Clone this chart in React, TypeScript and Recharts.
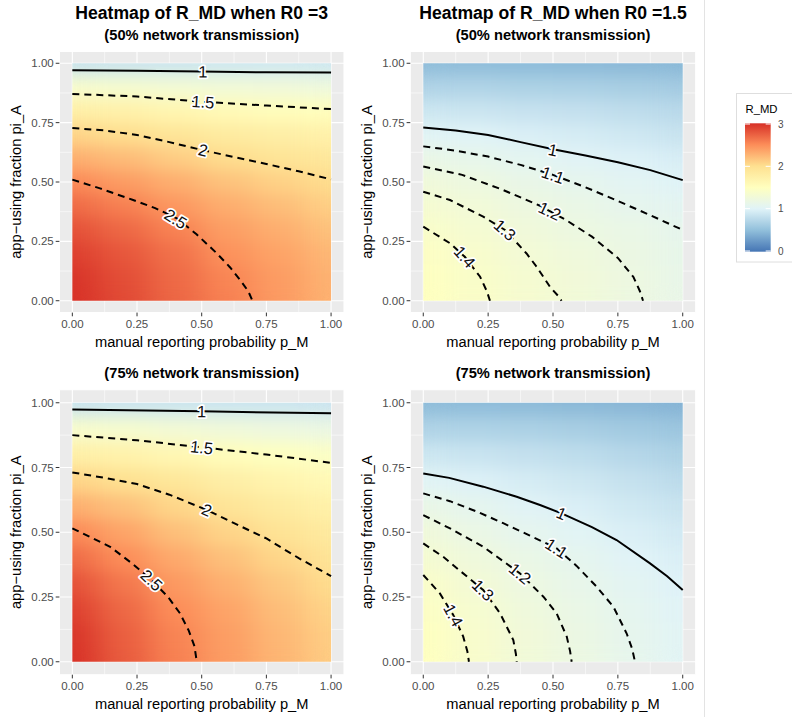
import React from "react";
import { ScatterChart, Scatter, XAxis, YAxis, CartesianGrid } from "recharts";

const FONT = '"Liberation Sans", Arial, Helvetica, sans-serif';

// heatmap grid: p_M across, pi_A up
const gridX = [0, 0.2, 0.4, 0.6, 0.8, 1];
const gridY = [0, 0.1, 0.2, 0.3, 0.4, 0.5, 0.6, 0.7, 0.8, 0.9, 1];
const axisTicks = [0, 0.25, 0.5, 0.75, 1];
const minorTicks = [0.125, 0.375, 0.625, 0.875];
const legendBreaks = [0, 1, 2, 3];

// RdYlBu (distiller, 7 colours) over 0..3
const palette = ["#4575b4", "#91bfdb", "#e0f3f8", "#ffffbf", "#fee090", "#fc8d59", "#d73027"];

// R_MD values, one row per pi_A (bottom to top)
const r3n50Heat = [
  [3.0, 2.86, 2.71, 2.57, 2.42, 2.28],
  [2.98, 2.84, 2.69, 2.54, 2.41, 2.27],
  [2.92, 2.79, 2.65, 2.47, 2.37, 2.24],
  [2.83, 2.7, 2.56, 2.4, 2.3, 2.18],
  [2.69, 2.57, 2.44, 2.31, 2.21, 2.1],
  [2.52, 2.41, 2.3, 2.18, 2.09, 2.02],
  [2.3, 2.22, 2.12, 2.02, 1.94, 1.88],
  [2.07, 2.01, 1.92, 1.83, 1.77, 1.72],
  [1.76, 1.72, 1.65, 1.58, 1.54, 1.52],
  [1.38, 1.36, 1.32, 1.29, 1.27, 1.24],
  [0.85, 0.86, 0.87, 0.88, 0.89, 0.88],
];
const r15n50Heat = [
  [1.5, 1.425, 1.35, 1.28, 1.21, 1.14],
  [1.49, 1.41, 1.34, 1.27, 1.205, 1.135],
  [1.46, 1.385, 1.3, 1.245, 1.185, 1.12],
  [1.41, 1.335, 1.26, 1.2, 1.155, 1.1],
  [1.345, 1.285, 1.21, 1.155, 1.1, 1.06],
  [1.26, 1.21, 1.145, 1.095, 1.045, 1.005],
  [1.16, 1.115, 1.065, 1.02, 0.98, 0.94],
  [1.03, 1.005, 0.96, 0.93, 0.89, 0.85],
  [0.88, 0.87, 0.84, 0.82, 0.79, 0.75],
  [0.7, 0.7, 0.68, 0.67, 0.645, 0.62],
  [0.48, 0.48, 0.47, 0.46, 0.455, 0.45],
];
const r3n75Heat = [
  [3.0, 2.77, 2.57, 2.41, 2.26, 2.12],
  [2.98, 2.75, 2.55, 2.4, 2.25, 2.11],
  [2.92, 2.7, 2.5, 2.36, 2.21, 2.07],
  [2.83, 2.62, 2.43, 2.29, 2.15, 2.02],
  [2.69, 2.5, 2.33, 2.19, 2.06, 1.93],
  [2.52, 2.36, 2.2, 2.07, 1.95, 1.84],
  [2.3, 2.19, 2.06, 1.93, 1.83, 1.73],
  [2.07, 1.99, 1.89, 1.77, 1.68, 1.6],
  [1.76, 1.71, 1.63, 1.54, 1.49, 1.44],
  [1.38, 1.36, 1.31, 1.26, 1.22, 1.18],
  [0.85, 0.86, 0.86, 0.86, 0.86, 0.86],
];
const r15n75Heat = [
  [1.5, 1.39, 1.28, 1.19, 1.106, 1.03],
  [1.49, 1.38, 1.27, 1.18, 1.1, 1.025],
  [1.46, 1.355, 1.245, 1.16, 1.08, 1.01],
  [1.415, 1.303, 1.205, 1.125, 1.05, 0.995],
  [1.345, 1.245, 1.155, 1.085, 1.01, 0.96],
  [1.26, 1.17, 1.09, 1.03, 0.96, 0.91],
  [1.16, 1.085, 1.02, 0.965, 0.9, 0.85],
  [1.03, 0.98, 0.93, 0.885, 0.83, 0.77],
  [0.88, 0.855, 0.82, 0.785, 0.735, 0.68],
  [0.7, 0.69, 0.67, 0.645, 0.61, 0.57],
  [0.48, 0.475, 0.465, 0.455, 0.44, 0.42],
];

// contour levels
const levelsR3 = [1, 1.5, 2, 2.5];
const levelsR15 = [1, 1.1, 1.2, 1.3, 1.4];

// contour paths [p_M, pi_A]
const r3n50C1 = [[0, 0.971], [0.25, 0.968], [0.5, 0.965], [0.75, 0.962], [1, 0.961]];
const r3n50C15 = [[0, 0.871], [0.25, 0.86], [0.5, 0.838], [0.75, 0.822], [1, 0.807]];
const r3n50C2 = [[0, 0.727], [0.125, 0.717], [0.25, 0.698], [0.375, 0.668], [0.5, 0.635], [0.625, 0.605], [0.75, 0.576], [0.875, 0.545], [1, 0.511]];
const r3n50C25 = [[0, 0.51], [0.107, 0.473], [0.235, 0.424], [0.32, 0.39], [0.404, 0.347], [0.48, 0.28], [0.559, 0.199], [0.61, 0.14], [0.649, 0.087], [0.68, 0.04], [0.696, 0]];
const r3n50LabelPos = [[0.505, 0.965], [0.505, 0.838], [0.505, 0.635], [0.4, 0.345]];

const r15n50C1 = [[0, 0.73], [0.125, 0.717], [0.25, 0.698], [0.375, 0.668], [0.5, 0.638], [0.625, 0.612], [0.75, 0.583], [0.875, 0.55], [1, 0.508]];
const r15n50C11 = [[0, 0.65], [0.125, 0.632], [0.25, 0.607], [0.375, 0.572], [0.5, 0.53], [0.625, 0.478], [0.75, 0.42], [0.875, 0.36], [1, 0.298]];
const r15n50C12 = [[0, 0.565], [0.15, 0.53], [0.3, 0.47], [0.45, 0.4], [0.55, 0.34], [0.65, 0.27], [0.75, 0.18], [0.81, 0.1], [0.835, 0.04], [0.847, 0]];
const r15n50C13 = [[0, 0.459], [0.103, 0.424], [0.231, 0.354], [0.315, 0.298], [0.398, 0.199], [0.437, 0.143], [0.488, 0.059], [0.52, 0.02], [0.533, 0]];
const r15n50C14 = [[0, 0.312], [0.103, 0.242], [0.16, 0.185], [0.219, 0.101], [0.245, 0.04], [0.257, 0]];
const r15n50LabelPos = [[0.5, 0.636], [0.5, 0.53], [0.488, 0.378], [0.315, 0.298], [0.16, 0.185]];

const r3n75C1 = [[0, 0.974], [0.5, 0.967], [1, 0.959]];
const r3n75C15 = [[0, 0.875], [0.25, 0.855], [0.5, 0.828], [0.75, 0.8], [1, 0.768]];
const r3n75C2 = [[0, 0.731], [0.125, 0.71], [0.25, 0.686], [0.375, 0.645], [0.52, 0.586], [0.625, 0.535], [0.75, 0.476], [0.875, 0.4], [1, 0.331]];
const r3n75C25 = [[0, 0.515], [0.146, 0.444], [0.23, 0.38], [0.307, 0.315], [0.37, 0.25], [0.416, 0.187], [0.45, 0.12], [0.472, 0.06], [0.481, 0]];
const r3n75LabelPos = [[0.5, 0.967], [0.5, 0.828], [0.52, 0.586], [0.307, 0.315]];

const r15n75C1 = [[0, 0.727], [0.1, 0.71], [0.231, 0.676], [0.36, 0.637], [0.45, 0.605], [0.533, 0.573], [0.65, 0.52], [0.745, 0.47], [0.874, 0.38], [0.94, 0.33], [1, 0.277]];
const r15n75C11 = [[0, 0.65], [0.103, 0.62], [0.206, 0.58], [0.308, 0.535], [0.411, 0.487], [0.514, 0.438], [0.591, 0.37], [0.668, 0.29], [0.733, 0.212], [0.784, 0.109], [0.805, 0.05], [0.816, 0]];
const r15n75C12 = [[0, 0.566], [0.103, 0.515], [0.231, 0.444], [0.373, 0.341], [0.463, 0.251], [0.514, 0.187], [0.553, 0.097], [0.566, 0.04], [0.572, 0]];
const r15n75C13 = [[0, 0.457], [0.077, 0.405], [0.231, 0.277], [0.296, 0.187], [0.347, 0.084], [0.357, 0.03], [0.36, 0]];
const r15n75C14 = [[0, 0.335], [0.064, 0.264], [0.116, 0.18], [0.154, 0.097], [0.17, 0.04], [0.176, 0]];
const r15n75LabelPos = [[0.533, 0.573], [0.514, 0.438], [0.373, 0.341], [0.231, 0.277], [0.116, 0.18]];

const titleR3 = "Heatmap of R_MD when R0 =3";
const titleR15 = "Heatmap of R_MD when R0 =1.5";
const sub50 = "(50% network transmission)";
const sub75 = "(75% network transmission)";
const xTitle = "manual reporting probability p_M";
const yTitle = "app\u2212using fraction pi_A";

function hexRgb(h: string) {
  const n = parseInt(h.slice(1), 16);
  return [(n >> 16) & 255, (n >> 8) & 255, n & 255];
}

function rampColor(v: number) {
  const t = Math.max(0, Math.min(1, v / 3)) * (palette.length - 1);
  const i = Math.min(Math.floor(t), palette.length - 2);
  const f = t - i;
  const a = hexRgb(palette[i]);
  const b = hexRgb(palette[i + 1]);
  const c = a.map((av, k) => Math.round(av + (b[k] - av) * f));
  return `rgb(${c[0]},${c[1]},${c[2]})`;
}

// angle of the contour near the label, in screen degrees
function labelAngle(pts: number[][], pos: number[], kx: number, ky: number) {
  let best = 0;
  let bestD = Infinity;
  pts.forEach((p, i) => {
    const d = Math.hypot((p[0] - pos[0]) * kx, (p[1] - pos[1]) * ky);
    if (d < bestD) {
      bestD = d;
      best = i;
    }
  });
  const a = pts[Math.max(0, best - 1)];
  const b = pts[Math.min(pts.length - 1, best + 1)];
  return (Math.atan2(-(b[1] - a[1]) * ky, (b[0] - a[0]) * kx) * 180) / Math.PI;
}

type Frame = { left: number; top: number; width: number; height: number; x0: number; x1: number; y0: number; y1: number };

function HeatPanel({ frame, heat, lines, levels, labelPos }: { frame: Frame; heat: number[][]; lines: number[][][]; levels: number[]; labelPos: number[][] }) {
  const kx = (frame.x1 - frame.x0) / 1.1;
  const ky = (frame.y1 - frame.y0) / 1.1;
  const hw = (kx * (gridX[1] - gridX[0])) / 2 + 0.5;
  const hh = (ky * (gridY[1] - gridY[0])) / 2 + 0.5;

  const cells = heat.flatMap((row, j) => row.map((v, i) => ({ x: gridX[i], y: gridY[j], v })));
  const labels = levels.map((lv, i) => ({
    x: labelPos[i][0],
    y: labelPos[i][1],
    text: String(lv),
    angle: labelAngle(lines[i], labelPos[i], kx, ky),
  }));

  const tickStyle = { fill: "#4d4d4d", fontSize: 11.5, fontFamily: FONT };

  return (
    <div style={{ position: "absolute", left: frame.left, top: frame.top }}>
      <ScatterChart
        width={frame.width}
        height={frame.height}
        margin={{ top: frame.y0 - frame.top, right: frame.left + frame.width - frame.x1, bottom: 0, left: 0 }}
      >
        <CartesianGrid fill="#ebebeb" stroke="#ffffff" strokeWidth={0.55} verticalValues={minorTicks} horizontalValues={minorTicks} />
        <CartesianGrid stroke="#ffffff" strokeWidth={1.1} />
        <XAxis
          type="number"
          dataKey="x"
          domain={[-0.05, 1.05]}
          ticks={axisTicks}
          interval={0}
          allowDataOverflow
          height={frame.top + frame.height - frame.y1}
          tickFormatter={(v: number) => v.toFixed(2)}
          tick={tickStyle}
          tickLine={{ stroke: "#333333" }}
          tickSize={3.7}
          tickMargin={3.5}
          axisLine={false}
        />
        <YAxis
          type="number"
          dataKey="y"
          domain={[-0.05, 1.05]}
          ticks={axisTicks}
          interval={0}
          allowDataOverflow
          width={frame.x0 - frame.left}
          tickFormatter={(v: number) => v.toFixed(2)}
          tick={tickStyle}
          tickLine={{ stroke: "#333333" }}
          tickSize={3.7}
          tickMargin={2}
          axisLine={false}
        />
        <Scatter
          className="heat"
          data={cells}
          isAnimationActive={false}
          shape={(p: any) => {
            const d = p.payload ?? p;
            const left = d.x <= 0 ? p.cx : p.cx - hw;
            const right = d.x >= 1 ? p.cx : p.cx + hw;
            const top = d.y >= 1 ? p.cy : p.cy - hh;
            const bottom = d.y <= 0 ? p.cy : p.cy + hh;
            return <rect x={left} y={top} width={right - left} height={bottom - top} fill={rampColor(d.v)} />;
          }}
        />
        {lines.map((pts, i) => (
          <Scatter
            key={`c${i}`}
            data={pts.map(([x, y]) => ({ x, y }))}
            isAnimationActive={false}
            line={{ stroke: "#000000", strokeWidth: 2, strokeDasharray: levels[i] === 1 ? "0" : "7 5" }}
            lineType="joint"
            shape={() => <g />}
          />
        ))}
        <Scatter
          data={labels}
          isAnimationActive={false}
          shape={(p: any) => {
            const d = p.payload ?? p;
            return (
              <text
                x={p.cx}
                y={p.cy}
                transform={`rotate(${d.angle} ${p.cx} ${p.cy})`}
                textAnchor="middle"
                dominantBaseline="central"
                fontSize={16.5}
                fontFamily={FONT}
                fill="#111111"
                stroke="#ffffff"
                strokeWidth={3.5}
                strokeLinejoin="round"
                paintOrder="stroke"
              >
                {d.text}
              </text>
            );
          }}
        />
      </ScatterChart>
    </div>
  );
}

const frameTL: Frame = { left: 0, top: 0, width: 350, height: 335, x0: 59.4, x1: 344, y0: 51.4, y1: 312.6 };
const frameTR: Frame = { left: 352, top: 0, width: 350, height: 335, x0: 410.3, x1: 695.7, y0: 51.4, y1: 312.6 };
const frameBL: Frame = { left: 0, top: 360, width: 350, height: 335, x0: 59.4, x1: 344, y0: 389.8, y1: 674.7 };
const frameBR: Frame = { left: 352, top: 360, width: 350, height: 335, x0: 410.3, x1: 695.7, y0: 389.8, y1: 674.7 };

export default function App() {
  const frames = [frameTL, frameTR, frameBL, frameBR];
  const barTop = 123.3;
  const barBottom = 251.7;
  const v2y = (v: number) => 124 + ((3 - v) / 3) * 127;

  return (
    <div style={{ position: "absolute", left: 0, top: 0, width: 792, height: 717, background: "#ffffff", overflow: "hidden", fontFamily: FONT }}>
      <style>{`.heat{filter:url(#heatBlur);clip-path:url(#heatClip);}`}</style>
      <svg width={0} height={0} style={{ position: "absolute" }}>
        <defs>
          <filter id="heatBlur" x="-20%" y="-20%" width="140%" height="140%" colorInterpolationFilters="sRGB">
            <feGaussianBlur stdDeviation="15 8" />
            <feComponentTransfer>
              <feFuncA type="linear" slope="20" intercept="0" />
            </feComponentTransfer>
          </filter>
          <clipPath id="heatClip" clipPathUnits="objectBoundingBox">
            <rect x="0" y="0" width="1" height="1" />
          </clipPath>
          <linearGradient id="legendGrad" x1="0" y1="1" x2="0" y2="0">
            {palette.map((c, i) => (
              <stop key={c} offset={i / (palette.length - 1)} stopColor={c} />
            ))}
          </linearGradient>
        </defs>
      </svg>

      <HeatPanel frame={frameTL} heat={r3n50Heat} lines={[r3n50C1, r3n50C15, r3n50C2, r3n50C25]} levels={levelsR3} labelPos={r3n50LabelPos} />
      <HeatPanel frame={frameTR} heat={r15n50Heat} lines={[r15n50C1, r15n50C11, r15n50C12, r15n50C13, r15n50C14]} levels={levelsR15} labelPos={r15n50LabelPos} />
      <HeatPanel frame={frameBL} heat={r3n75Heat} lines={[r3n75C1, r3n75C15, r3n75C2, r3n75C25]} levels={levelsR3} labelPos={r3n75LabelPos} />
      <HeatPanel frame={frameBR} heat={r15n75Heat} lines={[r15n75C1, r15n75C11, r15n75C12, r15n75C13, r15n75C14]} levels={levelsR15} labelPos={r15n75LabelPos} />

      <svg width={792} height={717} style={{ position: "absolute", left: 0, top: 0, pointerEvents: "none" }}>
        <g fontFamily={FONT} textAnchor="middle" fill="#000000">
          <text x={(frameTL.x0 + frameTL.x1) / 2} y={19} fontSize={17.6} fontWeight="bold">{titleR3}</text>
          <text x={(frameTR.x0 + frameTR.x1) / 2} y={19} fontSize={17.6} fontWeight="bold">{titleR15}</text>
          <text x={(frameTL.x0 + frameTL.x1) / 2} y={39.5} fontSize={14.67} fontWeight="bold">{sub50}</text>
          <text x={(frameTR.x0 + frameTR.x1) / 2} y={39.5} fontSize={14.67} fontWeight="bold">{sub50}</text>
          <text x={(frameBL.x0 + frameBL.x1) / 2} y={378} fontSize={14.67} fontWeight="bold">{sub75}</text>
          <text x={(frameBR.x0 + frameBR.x1) / 2} y={378} fontSize={14.67} fontWeight="bold">{sub75}</text>
          {frames.map((f, i) => (
            <text key={`xt${i}`} x={(f.x0 + f.x1) / 2} y={f.y1 + 34} fontSize={14.67}>{xTitle}</text>
          ))}
          {frames.map((f, i) => {
            const cx = f.x0 - 38.3;
            const cy = (f.y0 + f.y1) / 2;
            return (
              <text key={`yt${i}`} x={cx} y={cy} fontSize={14.67} transform={`rotate(-90 ${cx} ${cy})`}>{yTitle}</text>
            );
          })}
        </g>

        <line x1={704.5} y1={0} x2={704.5} y2={717} stroke="#e3e3e3" strokeWidth={1} />

        <rect x={736.5} y={93.5} width={70} height={168.5} fill="#ffffff" stroke="#dedede" strokeWidth={1} />
        <text x={745.5} y={113} fontSize={11.3} fontFamily={FONT} fill="#000000">R_MD</text>
        <rect x={745} y={barTop} width={25.7} height={barBottom - barTop} fill="url(#legendGrad)" />
        {legendBreaks.map((b) => (
          <g key={`lb${b}`}>
            <line x1={745} x2={750} y1={v2y(b)} y2={v2y(b)} stroke="#ffffff" strokeWidth={1} />
            <line x1={765.7} x2={770.7} y1={v2y(b)} y2={v2y(b)} stroke="#ffffff" strokeWidth={1} />
            <text x={778} y={v2y(b)} dominantBaseline="central" fontSize={10} fontFamily={FONT} fill="#4d4d4d">{b}</text>
          </g>
        ))}
      </svg>
    </div>
  );
}
